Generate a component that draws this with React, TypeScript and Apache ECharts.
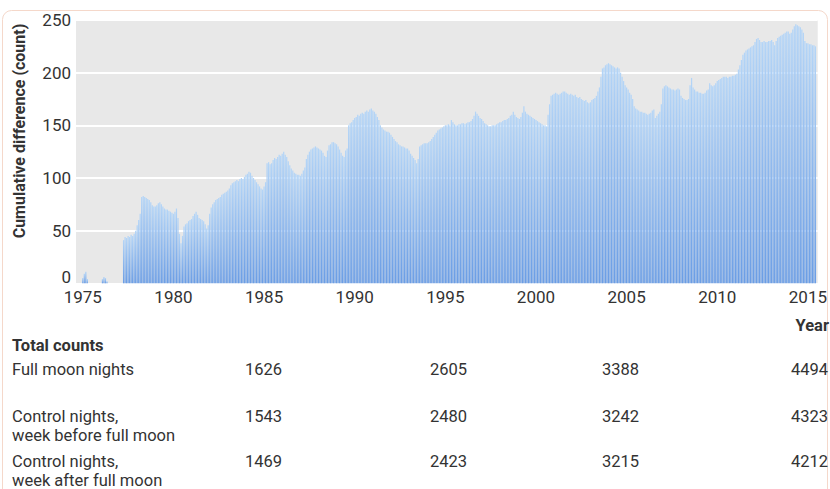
import React, { useEffect, useRef } from 'react';
import * as echarts from 'echarts';

// Monthly cumulative difference (count)
const pad1974 = [0, 0, 0, 0]; // Sep–Dec 1974
const values1975to1979 = [
  5, 9, 11, 4, 0, 0, 0, 0, 0, 0, 0, 0,
  0, 4, 6, 5, 2, 0, 0, 0, 0, 0, 0, 0,
  0, 0, 0, 41, 44, 43, 45, 44, 46, 45, 47, 50,
  55, 60, 66, 82, 83, 82, 81, 80, 79, 77, 74, 73,
  73, 74, 76, 77, 75, 73, 71, 70, 70, 69, 68, 67,
];
const values1980to1984 = [
  66, 68, 71, 62, 47, 38, 45, 54, 56, 57, 59, 60,
  61, 64, 66, 68, 65, 62, 61, 60, 59, 56, 52, 55,
  66, 72, 75, 77, 79, 80, 81, 82, 84, 85, 86, 87,
  88, 90, 93, 95, 96, 97, 98, 97, 99, 100, 99, 101,
  103, 104, 106, 105, 102, 100, 98, 96, 94, 92, 90, 89,
];
const values1985to1989 = [
  92, 96, 114, 115, 113, 114, 117, 119, 118, 120, 122, 121,
  123, 125, 122, 120, 116, 112, 109, 107, 105, 104, 103, 103,
  102, 104, 107, 110, 118, 122, 125, 127, 128, 129, 130, 129,
  128, 127, 126, 124, 121, 120, 126, 131, 132, 134, 134, 133,
  132, 130, 127, 124, 121, 120, 126, 128, 150, 152, 153, 155,
];
const values1990to1994 = [
  157, 158, 160, 159, 161, 162, 161, 163, 164, 163, 165, 166,
  164, 163, 161, 158, 155, 150, 148, 146, 145, 144, 144, 143,
  141, 139, 137, 135, 134, 132, 131, 130, 130, 129, 128, 128,
  126, 123, 121, 119, 117, 114, 118, 130, 131, 132, 133, 133,
  133, 134, 135, 137, 139, 141, 143, 145, 146, 147, 148, 149,
];
const values1995to1999 = [
  150, 150, 151, 150, 155, 153, 151, 150, 150, 151, 151, 152,
  152, 151, 152, 153, 153, 154, 156, 159, 163, 161, 159, 157,
  156, 154, 152, 151, 150, 149, 149, 150, 150, 150, 151, 152,
  153, 153, 154, 155, 155, 156, 157, 159, 160, 163, 160, 158,
  157, 156, 158, 162, 168, 163, 161, 160, 159, 158, 157, 156,
];
const values2000to2004 = [
  155, 154, 153, 152, 151, 150, 150, 149, 160, 170, 178, 179,
  180, 181, 180, 179, 180, 181, 182, 182, 181, 180, 179, 180,
  179, 178, 179, 177, 176, 177, 175, 174, 173, 174, 172, 171,
  172, 174, 175, 176, 178, 182, 186, 196, 204, 205, 207, 208,
  209, 208, 207, 206, 205, 204, 205, 204, 200, 196, 192, 188,
];
const values2005to2009 = [
  186, 184, 181, 179, 175, 168, 166, 165, 164, 163, 163, 162,
  162, 161, 160, 161, 162, 164, 165, 157, 159, 161, 163, 170,
  185, 187, 188, 187, 186, 185, 184, 184, 183, 184, 185, 184,
  178, 176, 175, 174, 174, 175, 188, 195, 186, 184, 182, 182,
  181, 181, 180, 180, 181, 183, 184, 190, 188, 187, 188, 190,
];
const values2010to2015 = [
  192, 193, 194, 195, 196, 196, 196, 195, 196, 196, 197, 197,
  198, 199, 203, 207, 212, 217, 219, 221, 222, 223, 224, 225,
  226, 229, 232, 233, 231, 229, 229, 230, 229, 229, 230, 230,
  231, 229, 226, 230, 233, 234, 235, 236, 237, 238, 239, 239,
  237, 238, 241, 244, 246, 245, 244, 243, 241, 238, 230, 228,
  228, 227, 227, 226, 226, 225,
];
const padEnd = [null]; // Jul 2015

const yTicks = [0, 50, 100, 150, 200, 250];

const rowLabels = [
  ['Full moon nights'],
  ['Control nights,', 'week before full moon'],
  ['Control nights,', 'week after full moon'],
];
const fullMoonTotals = [1626, 2605, 3388, 4494];
const weekBeforeTotals = [1543, 2480, 3242, 4323];
const weekAfterTotals = [1469, 2423, 3215, 4212];

function buildCategories(): string[] {
  const cats: string[] = [];
  let y = 1974;
  let m = 9;
  while (y < 2015 || (y === 2015 && m <= 7)) {
    cats.push(`${y}-${String(m).padStart(2, '0')}`);
    m++;
    if (m > 12) { m = 1; y++; }
  }
  return cats;
}

export default function App() {
  const ref = useRef<HTMLDivElement>(null);
  useEffect(() => {
    if (!ref.current) return;
    const chart = echarts.init(ref.current, null, { renderer: 'svg' });
    const categories = buildCategories();
    const values = [
      ...pad1974, ...values1975to1979, ...values1980to1984, ...values1985to1989,
      ...values1990to1994, ...values1995to1999, ...values2000to2004,
      ...values2005to2009, ...values2010to2015, ...padEnd,
    ];
    const font = 'Roboto, "Open Sans", sans-serif';
    const txt = '#333';
    const fs = 16.5;
    const graphics: any[] = [
      {
        type: 'rect', silent: true, z: -1,
        shape: { x: 2.5, y: 10.5, width: 825, height: 495, r: 9 },
        style: { fill: 'none', stroke: '#f5d8ca', lineWidth: 1 },
      },
      {
        type: 'text', x: 19, y: 131, rotation: Math.PI / 2,
        style: { text: 'Cumulative difference (count)', fontFamily: font, fontSize: 16, fontWeight: 'bold', fill: txt, align: 'center', verticalAlign: 'middle' },
      },
      {
        type: 'text', x: 829, y: 325,
        style: { text: 'Year', fontFamily: font, fontSize: fs, fontWeight: 'bold', fill: txt, align: 'right', verticalAlign: 'middle' },
      },
      {
        type: 'text', x: 12, y: 345,
        style: { text: 'Total counts', fontFamily: font, fontSize: fs, fontWeight: 'bold', fill: txt, align: 'left', verticalAlign: 'middle' },
      },
    ];
    const rowY = [369, 416, 461];
    rowLabels.forEach((lines, i) => {
      lines.forEach((line, j) => {
        graphics.push({
          type: 'text', x: 12, y: rowY[i] + j * 19,
          style: { text: line, fontFamily: font, fontSize: fs, fill: txt, align: 'left', verticalAlign: 'middle' },
        });
      });
    });
    const colX = [245, 430, 602, 791];
    [fullMoonTotals, weekBeforeTotals, weekAfterTotals].forEach((row, i) => {
      row.forEach((v, j) => {
        graphics.push({
          type: 'text', x: colX[j], y: rowY[i],
          style: { text: String(v), fontFamily: font, fontSize: fs, fill: txt, align: 'left', verticalAlign: 'middle' },
        });
      });
    });

    chart.setOption({
      animation: false,
      backgroundColor: '#ffffff',
      grid: {
        left: 76, right: 9, top: 20, bottom: 205.7,
        show: true, backgroundColor: '#e8e8e8', borderWidth: 0,
        containLabel: false,
      },
      xAxis: {
        type: 'category',
        data: categories,
        axisLine: { show: false },
        axisTick: { show: false },
        splitLine: { show: false },
        axisLabel: {
          interval: (idx: number, val: string) => val.endsWith('-01') && Number(val.slice(0, 4)) % 5 === 0,
          formatter: (val: string) => val.slice(0, 4),
          fontFamily: font, fontSize: 17, color: txt, margin: 5,
        },
      },
      yAxis: {
        type: 'value',
        min: yTicks[0], max: yTicks[yTicks.length - 1], interval: 50,
        axisLine: { show: false },
        axisTick: { show: false },
        splitLine: { show: true, lineStyle: { color: '#ffffff', width: 2 } },
        axisLabel: {
          fontFamily: font, fontSize: 17, color: txt, margin: 5,
          formatter: (v: number) => (v === 0 ? '{z|0}' : String(v)),
          rich: { z: { fontFamily: font, fontSize: 17, color: txt, padding: [0, 0, 12, 0] } },
        },
      },
      series: [{
        type: 'bar',
        data: values,
        barCategoryGap: '18%',
        itemStyle: {
          color: new echarts.graphic.LinearGradient(0, 0, 0, 1, [
            { offset: 0, color: '#b4d5f7' },
            { offset: 1, color: '#6a9de5' },
          ]),
        },
      }],
      graphic: graphics,
    });
    return () => chart.dispose();
  }, []);
  return <div ref={ref} style={{ position: 'fixed', left: 0, top: 0, width: 830, height: 489 }} />;
}
